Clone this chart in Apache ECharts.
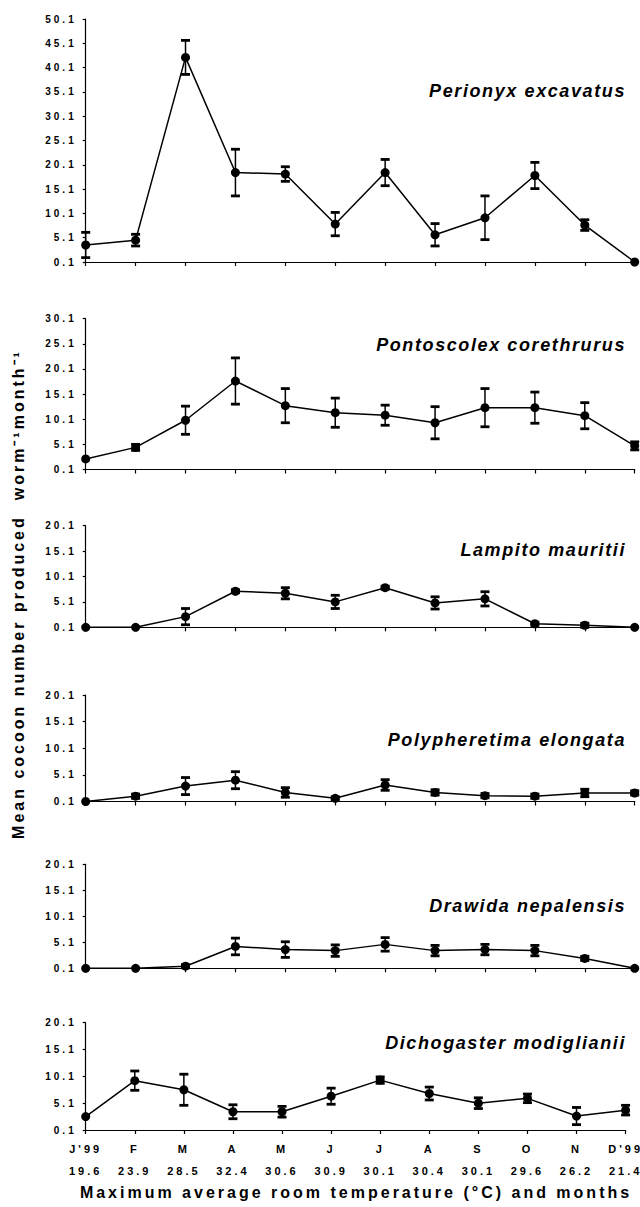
<!DOCTYPE html>
<html>
<head>
<meta charset="utf-8">
<script src="https://cdn.jsdelivr.net/npm/echarts@6/dist/echarts.min.js"></script>
<style>
  html, body { margin: 0; padding: 0; background: #fff; }
  #chart { width: 640px; height: 1207px; }
  /* the printed figure uses widely spaced lettering */
  #chart text { letter-spacing: 3px; }
  #chart text[style*="italic"] { letter-spacing: 1.6px; }
</style>
</head>
<body>
<div id="chart"></div>
<script>
  const months = ["J'99", 'F', 'M', 'A', 'M', 'J', 'J', 'A', 'S', 'O', 'N', "D'99"];
  const temps = ['19.6', '23.9', '28.5', '32.4', '30.6', '30.9', '30.1', '30.4', '30.1', '29.6', '26.2', '21.4'];

  const species = [
    'Perionyx excavatus',
    'Pontoscolex corethrurus',
    'Lampito mauritii',
    'Polypheretima elongata',
    'Drawida nepalensis',
    'Dichogaster modiglianii',
  ];

  const perionyxMean = [3.6, 4.6, 42.2, 18.5, 18.2, 7.9, 18.5, 5.7, 9.2, 17.9, 7.7, 0.1];
  const perionyxErr = [2.6, 1.2, 3.5, 4.8, 1.5, 2.4, 2.7, 2.3, 4.5, 2.7, 1.1, 0];

  const pontoMean = [2.2, 4.5, 9.9, 17.7, 12.8, 11.4, 10.9, 9.4, 12.4, 12.4, 10.8, 4.8];
  const pontoErr = [0, 0.6, 2.8, 4.6, 3.4, 2.9, 2.0, 3.2, 3.8, 3.1, 2.6, 0.8];

  const lampitoMean = [0.1, 0.1, 2.2, 7.2, 6.8, 5.1, 7.9, 4.9, 5.7, 0.8, 0.5, 0.1];
  const lampitoErr = [0, 0, 1.6, 0.3, 1.1, 1.3, 0.3, 1.2, 1.4, 0.3, 0.4, 0];

  const polyMean = [0.1, 1.1, 3.0, 4.1, 1.8, 0.7, 3.2, 1.8, 1.2, 1.1, 1.7, 1.7];
  const polyErr = [0, 0.4, 1.6, 1.6, 0.9, 0.3, 1.0, 0.5, 0.4, 0.4, 0.7, 0.4];

  const drawidaMean = [0.1, 0.1, 0.5, 4.3, 3.7, 3.5, 4.7, 3.5, 3.7, 3.5, 2.0, 0.1];
  const drawidaErr = [0, 0, 0.3, 1.6, 1.5, 1.1, 1.3, 1.0, 1.0, 1.0, 0.4, 0];

  const dichoMean = [2.6, 9.3, 7.6, 3.5, 3.5, 6.4, 9.4, 6.9, 5.1, 6.0, 2.7, 3.8];
  const dichoErr = [0, 1.8, 2.9, 1.3, 1.0, 1.5, 0.6, 1.2, 1.0, 0.8, 1.6, 0.9];

  const ticks50 = [0.1, 5.1, 10.1, 15.1, 20.1, 25.1, 30.1, 35.1, 40.1, 45.1, 50.1];
  const ticks30 = [0.1, 5.1, 10.1, 15.1, 20.1, 25.1, 30.1];
  const ticks20 = [0.1, 5.1, 10.1, 15.1, 20.1];

  const yTitle = 'Mean cocoon number produced  worm\u207B\u00B9month\u207B\u00B9';
  const xTitle = 'Maximum average room temperature (\u00B0C) and months';

  const allMeans = [perionyxMean, pontoMean, lampitoMean, polyMean, drawidaMean, dichoMean];
  const allErrs = [perionyxErr, pontoErr, lampitoErr, polyErr, drawidaErr, dichoErr];
  const allTicks = [ticks50, ticks30, ticks20, ticks20, ticks20, ticks20];

  // layout (pixels)
  const gridTop = [19, 318.7, 525.7, 695, 864.3, 1022.7];
  const gridBottom = [262, 469.5, 627.3, 801.5, 968.3, 1130];
  const nameY = [91, 345, 550, 740, 906, 1043];
  const FONT = '"Liberation Sans", Arial, Helvetica, sans-serif';
  const INK = '#000';

  function errorBars(idx) {
    const means = allMeans[idx];
    const errs = allErrs[idx];
    const data = [];
    means.forEach(function (m, i) {
      if (errs[i] > 0) data.push([i, m - errs[i], m + errs[i]]);
    });
    return {
      type: 'custom',
      xAxisIndex: idx,
      yAxisIndex: idx,
      encode: { x: 0, y: [1, 2] },
      z: 3,
      silent: true,
      renderItem: function (params, api) {
        const lo = api.coord([api.value(0), api.value(1)]);
        const hi = api.coord([api.value(0), api.value(2)]);
        const half = 4.5;
        const stem = { stroke: INK, lineWidth: 1.5 };
        const cap = { stroke: INK, lineWidth: 2.8 };
        return {
          type: 'group',
          children: [
            { type: 'line', shape: { x1: lo[0], y1: lo[1], x2: hi[0], y2: hi[1] }, style: stem },
            { type: 'line', shape: { x1: lo[0] - half, y1: lo[1], x2: lo[0] + half, y2: lo[1] }, style: cap },
            { type: 'line', shape: { x1: hi[0] - half, y1: hi[1], x2: hi[0] + half, y2: hi[1] }, style: cap },
          ],
        };
      },
      data: data,
    };
  }

  const grids = [];
  const xAxes = [];
  const yAxes = [];
  const series = [];
  const graphics = [];

  for (let i = 0; i < 6; i++) {
    const last = i === 5;
    const ticks = allTicks[i];
    grids.push({
      left: 85.7,
      right: 5.3,
      top: gridTop[i],
      height: gridBottom[i] - gridTop[i],
    });
    xAxes.push({
      type: 'category',
      gridIndex: i,
      data: months,
      boundaryGap: false,
      axisLine: { lineStyle: { color: INK, width: 1.2 } },
      axisTick: { show: true, length: 4, interval: 0, lineStyle: { color: INK, width: 1.2 } },
      axisLabel: {
        show: last,
        interval: 0,
        margin: 8,
        color: INK,
        fontFamily: FONT,
        fontWeight: 'bold',
        fontSize: 11,
        lineHeight: 22,
        formatter: function (value, index) {
          return months[index] + '\n' + temps[index];
        },
      },
      splitLine: { show: false },
    });
    yAxes.push({
      type: 'value',
      gridIndex: i,
      min: ticks[0],
      max: ticks[ticks.length - 1],
      axisLine: { show: true, lineStyle: { color: INK, width: 1.2 } },
      axisTick: { show: true, length: 3, customValues: ticks, lineStyle: { color: INK, width: 1.2 } },
      axisLabel: {
        customValues: ticks,
        margin: 9,
        color: INK,
        fontFamily: FONT,
        fontWeight: 'bold',
        fontSize: 10,
        formatter: function (v) {
          return v.toFixed(1);
        },
      },
      splitLine: { show: false },
    });
    series.push(errorBars(i));
    series.push({
      type: 'line',
      name: species[i],
      xAxisIndex: i,
      yAxisIndex: i,
      data: allMeans[i],
      symbol: 'circle',
      symbolSize: 9,
      z: 4,
      silent: true,
      lineStyle: { color: INK, width: 1.5 },
      itemStyle: { color: INK },
    });
    graphics.push({
      type: 'text',
      x: 626,
      y: nameY[i],
      style: {
        text: species[i],
        fill: INK,
        font: 'italic bold 18px ' + FONT,
        textAlign: 'right',
        textVerticalAlign: 'middle',
      },
    });
  }

  graphics.push({
    type: 'text',
    x: 18,
    y: 594,
    rotation: Math.PI / 2,
    style: {
      text: yTitle,
      fill: INK,
      font: 'bold 16px ' + FONT,
      textAlign: 'center',
      textVerticalAlign: 'middle',
    },
  });
  graphics.push({
    type: 'text',
    x: 356,
    y: 1192,
    style: {
      text: xTitle,
      fill: INK,
      font: 'bold 16px ' + FONT,
      textAlign: 'center',
      textVerticalAlign: 'middle',
    },
  });

  const chart = echarts.init(document.getElementById('chart'), null, { renderer: 'svg' });
  chart.setOption({
    animation: false,
    backgroundColor: '#fff',
    grid: grids,
    xAxis: xAxes,
    yAxis: yAxes,
    series: series,
    graphic: graphics,
  });
</script>
</body>
</html>
